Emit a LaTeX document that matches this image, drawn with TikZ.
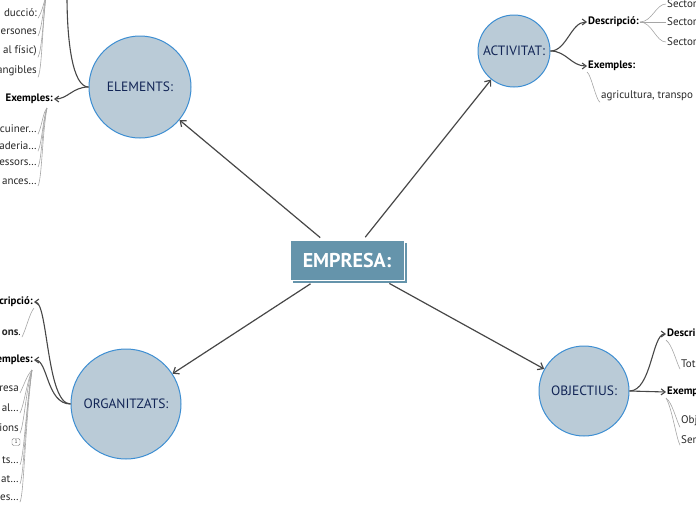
\documentclass[tikz,border=0pt]{standalone}
\usepackage{fontspec}
\setmainfont{PT Sans}
\usetikzlibrary{arrows.meta,shadows}

\definecolor{caixa}{HTML}{6594AB}
\definecolor{bola}{HTML}{BACBD7}
\definecolor{vora}{HTML}{3D8ED2}
\definecolor{lletra}{HTML}{122556}
\definecolor{fosc}{HTML}{474747}
\definecolor{gris}{HTML}{A6A6A6}
\definecolor{text}{HTML}{262626}

\tikzset{
	tema/.style={circle, fill=bola, draw=vora, line width=1pt, text=lletra, inner sep=0pt,
		font=\fontsize{13.5}{15}\selectfont},
	central/.style={rectangle, fill=caixa, draw=white, line width=1pt, text=white,
		minimum width=114pt, minimum height=40pt, font=\fontsize{20}{22}\selectfont\bfseries,
		general shadow={fill=caixa, draw=none, shadow xshift=3pt, shadow yshift=-3pt}},
	enllac/.style={draw=fosc, line width=1.2pt, -{Straight Barb[length=5pt,width=8pt]}},
	subenllac/.style={draw=fosc, line width=1.1pt, -{Straight Barb[length=4pt,width=6pt]}},
	branca/.style={draw=fosc, line width=1.1pt},
	etiq/.style={font=\fontsize{10.8}{12}\selectfont\bfseries, text=black, inner sep=1pt},
	fulla/.style={font=\fontsize{11}{13}\selectfont, text=text, inner sep=1pt},
	fil/.style={draw=gris, line width=0.6pt}
}

\begin{document}
\begin{tikzpicture}[x=1pt,y=-1pt]
	\useasboundingbox (0,0) rectangle (696,520);

	% centre
	\node[central] (empresa) at (347,260) {EMPRESA:};

	\node[tema, minimum size=102pt] (elements) at (140,87) {ELEMENTS:};
	\node[tema, minimum size=72pt] (activitat) at (514,51) {ACTIVITAT:};
	\node[tema, minimum size=110pt] (organitzats) at (126,404) {ORGANITZATS:};
	\node[tema, minimum size=90pt] (objectius) at (584,391) {OBJECTIUS:};

	\draw[enllac, shorten <=3pt] (empresa) -- (elements);
	\draw[enllac, shorten <=3pt] (empresa) -- (activitat);
	\draw[enllac, shorten <=6pt] (empresa) -- (organitzats);
	\draw[enllac, shorten <=6pt] (empresa) -- (objectius);

	% ELEMENTS
	\coordinate (eldalt) at (67,-4);
	\node[etiq, anchor=east] (elex) at (54,99) {Exemples:};
	\draw[branca] (elements.west) .. controls +(-16,0) and +(0,45) .. (eldalt);
	\draw[subenllac] (elements.west) .. controls +(-16,0) and +(14,0) .. (elex.east);

	\coordinate (elfil) at (46,-4);
	\node[fulla, anchor=east] (el1) at (38,13) {ducció:};
	\node[fulla, anchor=east] (el2) at (38,32) {ersones};
	\node[fulla, anchor=east] (el3) at (38,51) {al físic)};
	\node[fulla, anchor=east] (el4) at (38,71) {angibles};
	\draw[fil] (elfil) .. controls +(-2,6) and +(4,-6) .. (el1.south east);
	\draw[fil] (elfil) .. controls +(-3,14) and +(4,-8) .. (el2.south east);
	\draw[fil] (elfil) .. controls +(-3,24) and +(4,-8) .. (el3.south east);
	\draw[fil] (elfil) .. controls +(-4,34) and +(4,-8) .. (el4.south east);

	\coordinate (elexfil) at (47,108);
	\node[fulla, anchor=east] (el5) at (38,129) {cuiner…};
	\node[fulla, anchor=east] (el6) at (38,146) {aderia…};
	\node[fulla, anchor=east] (el7) at (38,163) {essors…};
	\node[fulla, anchor=east] (el8) at (38,182) {ances…};
	\draw[fil] (elexfil) .. controls +(-4,4) and +(4,-8) .. (el5.south east);
	\draw[fil] (elexfil) .. controls +(-4,10) and +(4,-8) .. (el6.south east);
	\draw[fil] (elexfil) .. controls +(-5,18) and +(4,-8) .. (el7.south east);
	\draw[fil] (elexfil) .. controls +(-5,28) and +(4,-8) .. (el8.south east);

	% ACTIVITAT
	\node[etiq, anchor=west] (acdesc) at (587,22) {Descripció:};
	\node[etiq, anchor=west] (acex) at (587,66) {Exemples:};
	\draw[subenllac] (activitat.east) .. controls +(16,0) and +(-16,0) .. (acdesc.west);
	\draw[subenllac] (activitat.east) .. controls +(16,0) and +(-16,0) .. (acex.west);

	\node[fulla, anchor=west] (ac1) at (666,4) {Sector};
	\node[fulla, anchor=west] (ac2) at (666,22) {Sector};
	\node[fulla, anchor=west] (ac3) at (666,42) {Sector};
	\draw[fil] (acdesc.east) .. controls +(12,0) and +(-10,0) .. (ac1.west);
	\draw[fil] (acdesc.east) -- (ac2.west);
	\draw[fil] (acdesc.east) .. controls +(12,0) and +(-10,0) .. (ac3.west);

	\node[fulla, anchor=west] (ac4) at (600,96) {agricultura, transpo};
	\draw[fil] (acex.south west) .. controls +(4,2) and +(-4,-2) .. (ac4.south west);

	% ORGANITZATS
	\node[etiq, anchor=east] (ordesc) at (34,302) {Descripció:};
	\node[etiq, anchor=east] (orex) at (34,360) {Exemples:};
	\draw[subenllac] (organitzats.west) .. controls +(-24,0) and +(14,0) .. (ordesc.east);
	\draw[subenllac] (organitzats.west) .. controls +(-24,0) and +(14,0) .. (orex.east);

	\node[fulla, anchor=east] (or0) at (22,333) {\textbf{ons}.};
	\draw[fil] (ordesc.south east) .. controls +(-4,4) and +(4,-8) .. (or0.south east);

	\coordinate (orexfil) at (32,370);
	\node[fulla, anchor=east] (or1) at (20,389) {resa};
	\node[fulla, anchor=east] (or2) at (20,408) {al…};
	\node[fulla, anchor=east] (or3) at (20,428) {ions};
	\node[fulla, anchor=east] (or4) at (20,460) {ts…};
	\node[fulla, anchor=east] (or5) at (20,479) {at…};
	\node[fulla, anchor=east] (or6) at (20,498) {es…};
	\draw[fil] (orexfil) .. controls +(-5,5) and +(4,-8) .. (or1.south east);
	\draw[fil] (orexfil) .. controls +(-5,12) and +(4,-8) .. (or2.south east);
	\draw[fil] (orexfil) .. controls +(-6,20) and +(4,-8) .. (or3.south east);
	\draw[fil] (orexfil) .. controls +(-6,36) and +(4,-8) .. (or4.south east);
	\draw[fil] (orexfil) .. controls +(-7,46) and +(4,-8) .. (or5.south east);
	\draw[fil] (orexfil) .. controls +(-7,56) and +(4,-8) .. (or6.south east);
	\node[draw=fosc!70, rounded corners=1.5pt, inner sep=1pt, minimum width=8pt, minimum height=7pt,
		font=\fontsize{5.5}{6}\selectfont, text=fosc] (oricona) at (16,442) {1};

	% OBJECTIUS
	\node[etiq, anchor=west] (obdesc) at (666,334) {Descripció:};
	\node[etiq, anchor=west] (obex) at (666,392) {Exemples:};
	\draw[subenllac] (objectius.east) .. controls +(22,0) and +(-14,0) .. (obdesc.west);
	\draw[subenllac] (objectius.east) -- (obex.west);

	\node[fulla, anchor=west] (ob1) at (680,364) {Tot};
	\node[fulla, anchor=west] (ob2) at (680,421) {Obj};
	\node[fulla, anchor=west] (ob3) at (680,440) {Ser};
	\draw[fil] (obdesc.south west) .. controls +(6,4) and +(-4,-8) .. (ob1.south west);
	\draw[fil] (obex.south west) .. controls +(6,4) and +(-4,-8) .. (ob2.south west);
	\draw[fil] (obex.south west) .. controls +(6,10) and +(-4,-8) .. (ob3.south west);

\end{tikzpicture}
\end{document}
